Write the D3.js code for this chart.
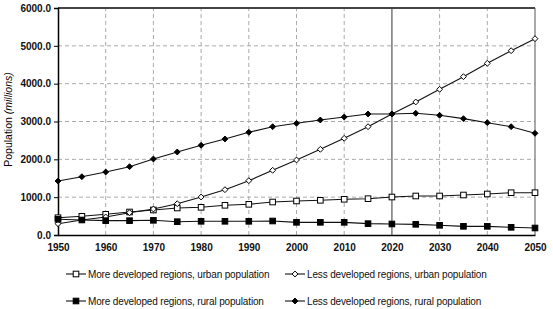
<!DOCTYPE html>
<html>
<head>
<meta charset="utf-8">
<script src="https://cdn.jsdelivr.net/npm/d3@7"></script>
<style>
body { margin: 0; background: #fff; }
text { font-family: "Liberation Sans", Arial, sans-serif; }
</style>
</head>
<body>
<div id="chart"></div>
<script>
var years = [1950,1955,1960,1965,1970,1975,1980,1985,1990,1995,2000,2005,2010,2015,2020,2025,2030,2035,2040,2045,2050]
var moreUrban = [457,494,547,608,661,714,732,785,811,872,899,917,944,960,1004,1031,1031,1057,1084,1118,1118]
var lessUrban = [299,397,476,590,687,827,1004,1198,1436,1710,1983,2265,2556,2863,3199,3516,3851,4185,4538,4872,5189]
var moreRural = [415,397,379,379,388,352,362,362,362,370,335,335,335,300,291,282,256,229,229,203,185]
var lessRural = [1427,1541,1665,1806,2009,2194,2371,2538,2715,2863,2952,3040,3119,3199,3199,3217,3164,3075,2969,2863,2688]
var yTicks = [0,1000,2000,3000,4000,5000,6000]
var xTicks = [1950,1960,1970,1980,1990,2000,2010,2020,2030,2040,2050]
var seriesNames = ["More developed regions, urban population", "Less developed regions, urban population",
                   "More developed regions, rural population", "Less developed regions, rural population"]

var series = [
    {name: seriesNames[0], values: moreUrban, shape: "square", fill: "#fff"},
    {name: seriesNames[1], values: lessUrban, shape: "diamond", fill: "#fff"},
    {name: seriesNames[2], values: moreRural, shape: "square", fill: "#000"},
    {name: seriesNames[3], values: lessRural, shape: "diamond", fill: "#000"}
]

var width = 553, height = 309
var margin = {left: 58, right: 18, top: 8, bottom: 74}

var svg = d3.select('#chart').append('svg')
    .attr('width', width)
    .attr('height', height)

var x = d3.scaleLinear().domain([1950, 2050]).range([margin.left, width - margin.right])
var y = d3.scaleLinear().domain([0, 6000]).range([height - margin.bottom, margin.top])

// grid
svg.append('g').selectAll('line')
    .data(yTicks.slice(1, -1))
    .enter().append('line')
    .attr('x1', x(1950)).attr('x2', x(2050))
    .attr('y1', function(d){return y(d)}).attr('y2', function(d){return y(d)})
    .attr('stroke', '#aaa').attr('stroke-dasharray', '4,3')

svg.append('g').selectAll('line')
    .data(xTicks.slice(1, -1))
    .enter().append('line')
    .attr('x1', function(d){return x(d)}).attr('x2', function(d){return x(d)})
    .attr('y1', y(0)).attr('y2', y(6000))
    .attr('stroke', function(d){return d == 2020 ? '#777' : '#aaa'})
    .attr('stroke-width', function(d){return d == 2020 ? 1.5 : 1})
    .attr('stroke-dasharray', function(d){return d == 2020 ? null : '4,3'})

// border
svg.append('line').attr('x1', x(1950)).attr('x2', x(2050)).attr('y1', y(6000)).attr('y2', y(6000))
    .attr('stroke', '#444').attr('stroke-width', 2)
svg.append('line').attr('x1', x(2050)).attr('x2', x(2050)).attr('y1', y(6000)).attr('y2', y(0))
    .attr('stroke', '#555').attr('stroke-width', 1)

// axes
var yAxis = d3.axisLeft(y).tickValues(yTicks).tickFormat(d3.format('.1f')).tickSize(4).tickPadding(3)
var gy = svg.append('g').attr('transform', 'translate(' + x(1950) + ',0)').call(yAxis)
var xAxis = d3.axisBottom(x).tickValues(xTicks).tickFormat(d3.format('d')).tickSize(0).tickPadding(9)
var gx = svg.append('g').attr('transform', 'translate(0,' + y(0) + ')').call(xAxis)
svg.selectAll('.domain').attr('stroke', '#000').attr('stroke-width', 1.5)
svg.selectAll('.tick text').attr('font-size', 10).attr('font-weight', 'bold').attr('fill', '#111')
    .style('font-family', '"Liberation Sans", Arial, sans-serif')

svg.append('text')
    .attr('transform', 'translate(12,' + (y(3000) - 2) + ') rotate(-90)')
    .attr('text-anchor', 'middle')
    .attr('font-size', 10.5)
    .text('Population ')
    .append('tspan').attr('font-style', 'italic').text('(millions)')

function marker(g, shape, fill, cx, cy) {
    if (shape == "square") {
        g.append('rect').attr('x', cx - 2.8).attr('y', cy - 2.8).attr('width', 5.6).attr('height', 5.6)
            .attr('fill', fill).attr('stroke', '#000').attr('stroke-width', 1)
    } else {
        g.append('path').attr('d', d3.symbol().type(d3.symbolDiamond2).size(22)())
            .attr('transform', 'translate(' + cx + ',' + cy + ')')
            .attr('fill', fill).attr('stroke', '#000').attr('stroke-width', 1)
    }
}

var line = d3.line()
    .x(function(d, i){return x(years[i])})
    .y(function(d){return y(d)})

series.forEach(function(s) {
    svg.append('path').datum(s.values)
        .attr('d', line)
        .attr('fill', 'none').attr('stroke', '#111').attr('stroke-width', 1.1)
    var g = svg.append('g')
    s.values.forEach(function(v, i) {
        marker(g, s.shape, s.fill, x(years[i]), y(v))
    })
})

// legend
var legendPos = [[66, 274], [285, 274], [66, 301], [285, 301]]
series.forEach(function(s, i) {
    var lx = legendPos[i][0], ly = legendPos[i][1]
    var g = svg.append('g')
    g.append('line').attr('x1', lx).attr('x2', lx + 20).attr('y1', ly).attr('y2', ly)
        .attr('stroke', '#111').attr('stroke-width', 1.1)
    marker(g, s.shape, s.fill, lx + 10, ly)
    g.append('text').attr('x', lx + 22).attr('y', ly + 3.5)
        .attr('font-size', 10).attr('fill', '#111')
        .style('letter-spacing', '-0.15px')
        .text(s.name)
})
</script>
</body>
</html>
